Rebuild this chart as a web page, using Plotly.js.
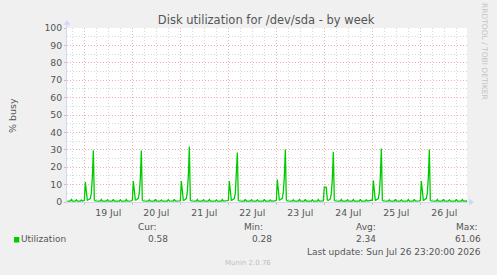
<!DOCTYPE html>
<html>
<head>
<meta charset="utf-8">
<script src="https://cdn.plot.ly/plotly-3.0.1.min.js"></script>
<style>
  html, body { margin: 0; padding: 0; background: #F0F0F0; }
  #chart { width: 497px; height: 275px; }
</style>
</head>
<body>
<div id="chart"></div>
<script>
// ---- data ----
const jul18Times = ["15:30","17:00","17:30","18:00","19:30","20:00","20:30","22:00","22:30","23:00","23:30"];
const jul18Util  = [0.5, 0.5, 1.4, 0.5, 0.5, 1.3, 0.5, 0.5, 1.2, 0.5, 0.6];

const dayTimes = ["00:00","00:30","01:00","01:30","02:00","02:30","03:00","03:30","04:00","04:30",
                  "05:00","05:30","07:00","08:00","08:30","09:00","11:00","11:30","12:00","14:00",
                  "14:30","15:00","17:30","18:00","18:30","20:30","21:00","21:30","23:30"];

const days = ["2026-07-19","2026-07-20","2026-07-21","2026-07-22","2026-07-23","2026-07-24","2026-07-25","2026-07-26"];

const jul19Util = [0.9,11.4,4.2,1.0,1.3,1.5,2.0,5.0,14.0,29.8,1.2,0.6,0.5,0.5,1.4,0.5,0.5,1.3,0.5,0.5,1.5,0.5,0.5,1.3,0.5,0.5,1.4,0.5,0.6];
const jul20Util = [1.0,12.0,4.5,1.1,1.2,1.6,2.2,5.5,13.5,29.6,1.0,0.6,0.5,0.5,1.3,0.5,0.5,1.5,0.5,0.5,1.2,0.5,0.5,1.4,0.6,0.5,1.5,0.5,0.7];
const jul21Util = [0.8,12.0,4.0,1.0,1.1,1.4,1.9,6.0,15.0,31.9,1.1,0.6,0.5,0.5,1.4,0.5,0.5,1.3,0.5,0.5,1.4,0.5,0.5,1.2,0.5,0.5,1.4,0.5,0.8];
const jul22Util = [0.9,12.0,4.3,1.0,1.2,1.5,2.0,5.2,13.8,28.4,1.0,0.6,0.5,0.5,1.5,0.5,0.5,1.3,0.5,0.5,1.3,0.5,0.5,1.5,0.5,0.5,1.2,0.5,0.6];
const jul23Util = [0.9,12.9,4.6,1.1,1.3,1.6,2.1,5.8,14.5,30.2,1.2,0.6,0.5,0.5,1.3,0.5,0.5,1.4,0.5,0.5,1.5,0.5,0.5,1.3,0.5,0.5,1.4,0.5,0.7];
const jul24Util = [8.6,8.5,8.3,1.2,1.0,1.3,1.8,5.0,13.0,28.8,1.0,0.6,0.5,0.5,1.4,0.5,0.5,1.3,0.5,0.5,1.4,0.5,0.5,1.5,0.5,0.5,1.3,0.5,1.0];
const jul25Util = [1.0,12.4,4.4,1.0,1.2,1.5,2.0,5.5,14.2,30.7,1.1,0.6,0.5,0.5,1.3,0.5,0.5,1.5,0.5,0.5,1.3,0.5,0.5,1.4,0.5,0.5,1.5,0.5,0.7];
const jul26Util = [0.9,12.0,4.2,1.0,1.2,1.5,2.1,5.3,14.0,30.2,1.0,0.6,0.5,0.5,1.4,0.5,0.5,1.6,0.5,0.5,1.3,0.5,0.5,1.5,0.5,0.5,1.4,0.5,0.58];
const dayUtil = [jul19Util, jul20Util, jul21Util, jul22Util, jul23Util, jul24Util, jul25Util, jul26Util];

const yTicks = [0,10,20,30,40,50,60,70,80,90,100];
const statNames  = ["Cur:", "Min:", "Avg:", "Max:"];
const statValues = ["0.58", "0.28", "2.34", "61.06"];
const seriesName = "Utilization";
const lastUpdate = "Last update: Sun Jul 26 23:20:00 2026";

// ---- build series ----
const xs = [], ys = [];
jul18Times.forEach((t, i) => { xs.push("2026-07-18 " + t); ys.push(jul18Util[i]); });
days.forEach((d, di) => {
  dayTimes.forEach((t, i) => { xs.push(d + " " + t); ys.push(dayUtil[di][i]); });
});

// ---- layout helpers (pixel -> paper) ----
const L = 67, T = 28, W = 400, H = 174;
const px = x => (x - L) / W;
const py = y => (T + H - y) / H;

const FONT = "DejaVu Sans, sans-serif";
const TXT = "#555555";
const AXIS = "#CFD6F8";
const MGRID = "#EEB0B0";
const GRID = "#D8D8D8";
const DOTS = "1px,2px";

const annotations = [];
function addText(text, x, y, size, color, xanchor, angle) {
  annotations.push({
    text: text, x: px(x), y: py(y), xref: "paper", yref: "paper",
    showarrow: false, xanchor: xanchor || "center", yanchor: "middle",
    textangle: angle || 0, borderpad: 0,
    font: { family: FONT, size: size, color: color }
  });
}
addText("% busy", 12, 115, 9.5, TXT, "center", -90);
addText("RRDTOOL / TOBI OETIKER", 485, 51, 7.5, "#C4C4C4", "center", 90);
const statLeft = [136.7, 242.7, 355, 455];
const valRight = [169, 272.7, 376.7, 482.3];
statNames.forEach((s, i) => addText(s, statLeft[i], 226.7, 9, TXT, "left"));
statValues.forEach((s, i) => addText(s, valRight[i], 239.3, 9, TXT, "right"));
addText(seriesName, 20, 239.3, 9, TXT, "left");
addText(lastUpdate, 482.3, 251.7, 9, TXT, "right");
addText("Munin 2.0.76", 248, 262.7, 7, "#C0C0C0", "center");

const shapes = [
  // legend colour box
  { type: "rect", xref: "paper", yref: "paper", x0: px(14), x1: px(19.3), y0: py(242.5), y1: py(237),
    fillcolor: "#00CC00", line: { width: 0 } },
  // axis extensions and arrows
  { type: "line", xref: "paper", yref: "paper", x0: px(467), x1: px(470), y0: 0, y1: 0,
    line: { color: AXIS, width: 1 } },
  { type: "path", xref: "paper", yref: "paper",
    path: `M ${px(473.5)} ${py(202)} L ${px(469.5)} ${py(199)} L ${px(469.5)} ${py(205)} Z`,
    fillcolor: AXIS, line: { color: AXIS, width: 0.5 } },
  { type: "line", xref: "paper", yref: "paper", x0: 0, x1: 0, y0: 1, y1: py(25),
    line: { color: AXIS, width: 1 } },
  { type: "path", xref: "paper", yref: "paper",
    path: `M ${px(67)} ${py(20.5)} L ${px(64)} ${py(24.5)} L ${px(70)} ${py(24.5)} Z`,
    fillcolor: AXIS, line: { color: AXIS, width: 0.5 } }
];

const trace = {
  x: xs, y: ys, type: "scatter", mode: "lines",
  line: { color: "#00CC00", width: 1.3 },
  hoverinfo: "skip", showlegend: false
};

const layout = {
  width: 497, height: 275, autosize: false,
  margin: { l: L, r: 497 - L - W, t: T, b: 275 - T - H, pad: 0 },
  paper_bgcolor: "#F0F0F0", plot_bgcolor: "#FFFFFF",
  showlegend: false,
  title: {
    text: "Disk utilization for /dev/sda - by week",
    x: 247.5 / 497, xanchor: "center", xref: "paper",
    y: 1 - 20 / 275, yanchor: "middle", yref: "container",
    font: { family: FONT, size: 11.5, color: TXT }
  },
  xaxis: {
    type: "date",
    range: ["2026-07-18 15:20", "2026-07-26 23:20"],
    tick0: "2026-07-19", dtick: 86400000,
    ticklabelmode: "period", tickformat: "%d %b",
    ticks: "outside", ticklen: 2, tickcolor: MGRID, tickwidth: 1,
    showgrid: true, gridcolor: MGRID, griddash: DOTS, gridwidth: 1,
    minor: { dtick: 21600000, tick0: "2026-07-19", showgrid: true, gridcolor: GRID, griddash: DOTS, gridwidth: 1 },
    showline: true, linecolor: AXIS, linewidth: 1,
    zeroline: false, fixedrange: true,
    tickfont: { family: FONT, size: 9.3, color: TXT }
  },
  yaxis: {
    range: [0, 100], tickvals: yTicks, ticktext: yTicks.map(String),
    ticks: "outside", ticklen: 2, tickcolor: MGRID, tickwidth: 1,
    showgrid: true, gridcolor: MGRID, griddash: DOTS, gridwidth: 1,
    minor: { dtick: 5, showgrid: true, gridcolor: GRID, griddash: DOTS, gridwidth: 1 },
    showline: true, linecolor: AXIS, linewidth: 1,
    zeroline: false, fixedrange: true,
    tickfont: { family: FONT, size: 9.3, color: TXT }
  },
  annotations: annotations,
  shapes: shapes
};

Plotly.newPlot("chart", [trace], layout, { staticPlot: true, displayModeBar: false });
</script>
</body>
</html>
